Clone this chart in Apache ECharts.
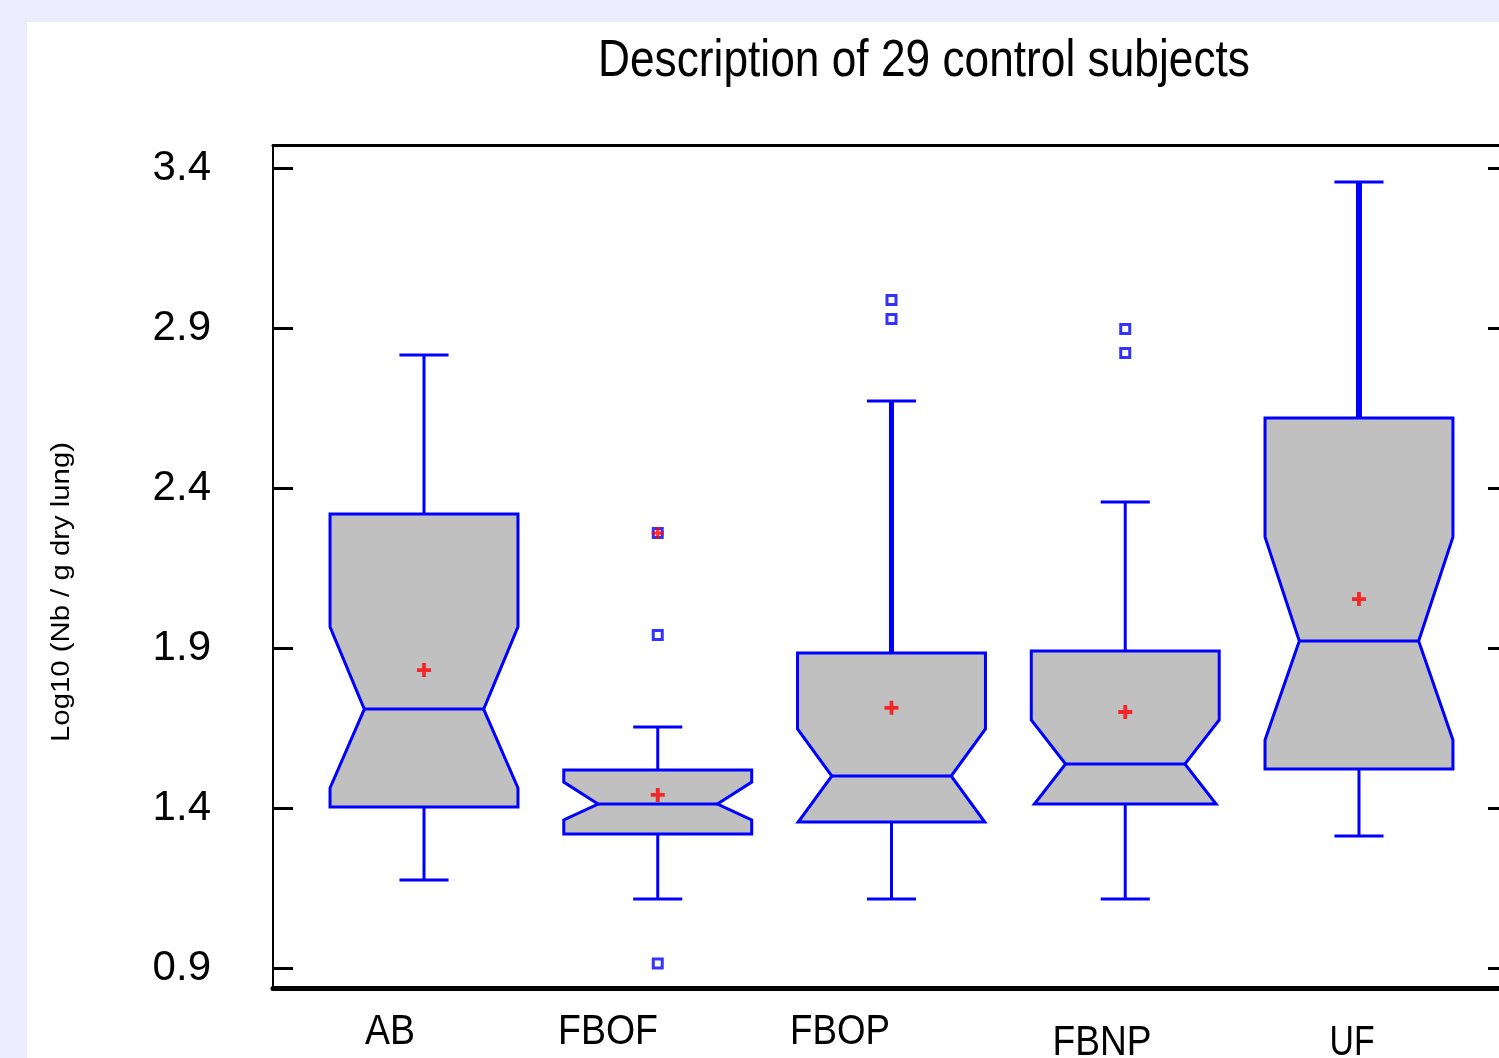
<!DOCTYPE html>
<html><head><meta charset="utf-8">
<script src="https://cdn.jsdelivr.net/npm/echarts@6/dist/echarts.min.js"></script>
<style>html,body{margin:0;padding:0;background:#ECECFC}#chart{width:1499px;height:1058px}</style>
</head><body><div id="chart"></div>
<script>
// ---- data ----
const categories  = ['AB', 'FBOF', 'FBOP', 'FBNP', 'UF'];
const whiskerLow  = [1.175, 1.116, 1.116, 1.116, 1.3125];
const q1          = [1.403, 1.319, 1.356, 1.4125, 1.522];
const notchLow    = [1.4625, 1.3625, 1.353, 1.40, 1.6125];
const median      = [1.709, 1.4125, 1.50, 1.5375, 1.922];
const notchHigh   = [1.966, 1.481, 1.647, 1.675, 2.247];
const q3          = [2.319, 1.519, 1.884, 1.891, 2.619];
const whiskerHigh = [2.816, 1.653, 2.672, 2.356, 3.356];
const means       = [1.831, 1.441, 1.713, 1.700, 2.053];
const outlierCat  = ['FBOF', 'FBOF', 'FBOP', 'FBOP', 'FBNP', 'FBNP'];
const outlierVal  = [1.941, 0.914, 2.9875, 2.928, 2.897, 2.822];
const farCat      = ['FBOF'];
const farVal      = [2.259];
const yTicks      = [0.9, 1.4, 1.9, 2.4, 2.9, 3.4];
const titleText   = 'Description of 29 control subjects';
const yName       = 'Log10 (Nb / g dry lung)';

// ---- layout / style (not data) ----
const X_MIN = 0.354, X_MAX = 5.599, Y_MIN = 0.8375, Y_MAX = 3.4719;
const BOX_W = 0.804, CAP_W = 0.21, NOTCH_RATIO = 0.635;
const upperWhiskerWidth = [3, 3, 5, 3, 6];
const BLUE = '#0000FF';
const catLabelLayout = [
  {cx: 390, cy: 1032, w: 50}, {cx: 608, cy: 1032, w: 100}, {cx: 840, cy: 1032, w: 100},
  {cx: 1102, cy: 1043, w: 99}, {cx: 1352, cy: 1043, w: 45}
];
const FONT = '"Liberation Sans", Arial, sans-serif';

const mctx = document.createElement('canvas').getContext('2d');
function fitText(text, cx, cy, capH, width, rotation) {
  const fs = capH / 0.716;
  mctx.font = fs + 'px ' + FONT;
  const w = mctx.measureText(text).width;
  return {
    type: 'text', x: cx, y: cy, rotation: rotation || 0, scaleX: width / w, z: 50,
    style: {text: text, x: 0, y: 0, align: 'center', verticalAlign: 'middle',
            fontSize: fs, fontFamily: FONT, fill: '#000'}
  };
}

const xOf = c => categories.indexOf(c) + 1;
const boxData = categories.map((c, i) =>
  [i + 1, whiskerLow[i], q1[i], notchLow[i], median[i], notchHigh[i], q3[i], whiskerHigh[i], i]);

function renderBox(params, api) {
  const x = api.value(0);
  const idx = api.value(8);
  const py = d => api.coord([x, api.value(d)])[1];
  const cx = api.coord([x, api.value(1)])[0];
  const yWL = py(1), yQ1 = py(2), yNL = py(3), yMed = py(4), yNH = py(5), yQ3 = py(6), yWH = py(7);
  const hw = api.size([BOX_W, 0])[0] / 2;
  const iw = hw * NOTCH_RATIO;
  const chw = api.size([CAP_W, 0])[0] / 2;
  function side(edge, inner) {
    const pts = [];
    if (yNH >= yQ3) { pts.push([edge, yQ3], [edge, yNH]); }
    else { const t = (yMed - yQ3) / (yMed - yNH); pts.push([inner + (edge - inner) * t, yQ3]); }
    pts.push([inner, yMed]);
    if (yNL <= yQ1) { pts.push([edge, yNL], [edge, yQ1]); }
    else { const t = (yQ1 - yMed) / (yNL - yMed); pts.push([inner + (edge - inner) * t, yQ1]); }
    return pts;
  }
  const pts = side(cx - hw, cx - iw).concat(side(cx + hw, cx + iw).reverse());
  const ls = w => ({stroke: BLUE, lineWidth: w || 3, fill: null});
  return {
    type: 'group',
    children: [
      {type: 'line', shape: {x1: cx, y1: yQ3, x2: cx, y2: yWH}, style: ls(upperWhiskerWidth[idx])},
      {type: 'line', shape: {x1: cx - chw, y1: yWH, x2: cx + chw, y2: yWH}, style: ls(3)},
      {type: 'line', shape: {x1: cx, y1: yQ1, x2: cx, y2: yWL}, style: ls(3)},
      {type: 'line', shape: {x1: cx - chw, y1: yWL, x2: cx + chw, y2: yWL}, style: ls(3)},
      {type: 'polygon', shape: {points: pts}, style: {fill: '#C0C0C0', stroke: BLUE, lineWidth: 3}},
      {type: 'line', shape: {x1: cx - iw, y1: yMed, x2: cx + iw, y2: yMed}, style: ls(3)}
    ]
  };
}

const PLUS = 'path://M4,0h3v4h4v3h-4v4h-3v-4h-4v-3h4z';

const chart = echarts.init(document.getElementById('chart'), null, {renderer: 'canvas'});
chart.setOption({
  backgroundColor: '#ECECFC',
  animation: false,
  grid: {left: 273, right: 0, top: 145, bottom: 70, containLabel: false},
  xAxis: [
    {type: 'value', min: X_MIN, max: X_MAX, position: 'bottom',
     axisLine: {show: true, onZero: false, lineStyle: {color: '#000', width: 5}},
     axisTick: {show: false}, axisLabel: {show: false}, splitLine: {show: false}},
    {type: 'value', min: X_MIN, max: X_MAX, position: 'top',
     axisLine: {show: true, onZero: false, lineStyle: {color: '#000', width: 3}},
     axisTick: {show: false}, axisLabel: {show: false}, splitLine: {show: false}}
  ],
  yAxis: [
    {type: 'value', min: Y_MIN, max: Y_MAX, position: 'left',
     axisLine: {show: true, onZero: false, lineStyle: {color: '#000', width: 2}},
     axisTick: {show: true, inside: true, length: 20, customValues: yTicks, lineStyle: {color: '#000', width: 3}},
     axisLabel: {show: true, customValues: yTicks, formatter: v => v.toFixed(1), color: '#000',
                 fontSize: 42, fontFamily: FONT, margin: 62, padding: [10, 0, 0, 0]},
     splitLine: {show: false}},
    {type: 'value', min: Y_MIN, max: Y_MAX, position: 'right',
     axisLine: {show: false},
     axisTick: {show: true, inside: true, length: 11, customValues: yTicks, lineStyle: {color: '#000', width: 3}},
     axisLabel: {show: false}, splitLine: {show: false}}
  ],
  graphic: [
    {type: 'rect', shape: {x: 27, y: 22, width: 1500, height: 1100}, style: {fill: '#FFFFFF'}, z: -100, silent: true},
    fitText(titleText, 924, 61.5, 37, 652, 0),
    fitText(yName, 61.5, 592, 19, 300, Math.PI / 2)
  ].concat(categories.map((c, i) => fitText(c, catLabelLayout[i].cx, catLabelLayout[i].cy, 30, catLabelLayout[i].w, 0))),
  series: [
    {type: 'custom', renderItem: renderBox, data: boxData, encode: {x: 0, y: [1, 7]}, z: 3, silent: true},
    {type: 'scatter', data: outlierCat.map((c, i) => [xOf(c), outlierVal[i]]), symbol: 'rect', symbolSize: 9,
     itemStyle: {color: '#FFFFFF', borderColor: BLUE, borderWidth: 3}, z: 5, silent: true},
    {type: 'scatter', data: farCat.map((c, i) => [xOf(c), farVal[i]]), symbol: 'rect', symbolSize: 9,
     itemStyle: {color: '#FFFFFF', borderColor: BLUE, borderWidth: 3}, z: 5, silent: true},
    {type: 'scatter', data: farCat.map((c, i) => [xOf(c), farVal[i]]), symbol: PLUS, symbolSize: 12,
     itemStyle: {color: '#FF0000'}, z: 6, silent: true},
    {type: 'scatter', data: means.map((v, i) => [i + 1, v]), symbol: PLUS, symbolSize: 14,
     itemStyle: {color: '#FF0000'}, z: 6, silent: true}
  ]
});
</script></body></html>
